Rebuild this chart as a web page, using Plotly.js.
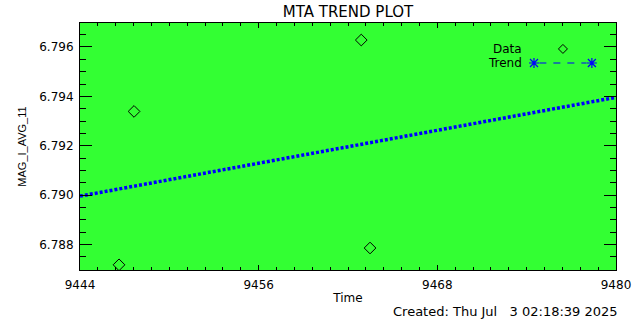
<!DOCTYPE html>
<html>
<head>
<meta charset="utf-8">
<script src="https://cdn.plot.ly/plotly-3.0.1.min.js"></script>
<style>html,body{margin:0;padding:0;background:#fff;}#chart{width:640px;height:320px;}</style>
</head>
<body>
<div id="chart"></div>
<script>
// Data
var dataTime = [9446.62, 9447.63, 9462.89, 9463.48];
var dataValue = [6.78718, 6.79339, 6.79628, 6.78786];
var trendTime = [9444, 9480];
var trendValue = [6.78996, 6.79396];
var xTickVals = [9444, 9456, 9468, 9480];
var yTickVals = [6.788, 6.790, 6.792, 6.794, 6.796];

var font = 'DejaVu Sans, Verdana, sans-serif';
var narrow = 'Liberation Sans, Arial, sans-serif';

var traces = [
  {
    x: trendTime, y: trendValue, type: 'scatter', mode: 'lines',
    line: {color: '#0000ff', width: 3.5, dash: '3px,2px'},
    showlegend: false, hoverinfo: 'skip'
  },
  {
    x: dataTime, y: dataValue, type: 'scatter', mode: 'markers',
    marker: {symbol: 'diamond-open', size: 9, color: '#000000', line: {width: 1, color: '#000000'}},
    showlegend: false
  }
];

// custom legend decorations (paper coords, pixel-sized)
function asterisk(xp, yp) {
  return {
    type: 'path', xref: 'paper', yref: 'paper', xsizemode: 'pixel', ysizemode: 'pixel',
    xanchor: xp, yanchor: yp,
    path: 'M-5,0L5,0M0,-5L0,5M-4,-4L4,4M-4,4L4,-4',
    line: {color: '#0000ff', width: 1.2}
  };
}
var shapes = [
  {
    type: 'path', xref: 'paper', yref: 'paper', xsizemode: 'pixel', ysizemode: 'pixel',
    xanchor: 0.901, yanchor: 0.895,
    path: 'M-4.5,0L0,4.5L4.5,0L0,-4.5Z',
    line: {color: '#000000', width: 1}
  },
  asterisk(0.847, 0.838),
  asterisk(0.955, 0.838),
  {
    type: 'line', xref: 'paper', yref: 'paper', x0: 0.857, x1: 0.945, y0: 0.838, y1: 0.838,
    line: {color: '#0000ff', width: 1.2, dash: '7px,7px'}
  }
];

var layout = {
  width: 640, height: 320,
  margin: {l: 80, r: 24, t: 23, b: 50},
  paper_bgcolor: '#ffffff',
  plot_bgcolor: '#33ff33',
  font: {family: font, size: 12, color: '#000000'},
  title: {text: 'MTA TREND PLOT', x: 0.5, xref: 'paper', xanchor: 'center', y: 0.962, yanchor: 'middle',
          font: {family: font, size: 15, color: '#000000'}},
  xaxis: {
    range: [9444, 9480], tickvals: xTickVals, ticktext: xTickVals.map(String),
    ticks: 'inside', ticklen: 5, tickwidth: 1, tickcolor: '#000',
    minor: {dtick: 1.2, tick0: 9444, ticks: 'inside', ticklen: 3, tickcolor: '#000', tickwidth: 1},
    showline: true, linecolor: '#000', linewidth: 1, mirror: 'ticks',
    showgrid: false, zeroline: false,
    tickfont: {family: font, size: 12}, ticklabelstandoff: 4,
    title: {text: 'Time', font: {family: font, size: 12}, standoff: 2}
  },
  yaxis: {
    range: [6.78697, 6.79697], tickvals: yTickVals, ticktext: yTickVals.map(function(v){return v.toFixed(3);}),
    ticks: 'inside', ticklen: 12, tickwidth: 1, tickcolor: '#000',
    minor: {dtick: 0.0005, tick0: 6.788, ticks: 'inside', ticklen: 6, tickcolor: '#000', tickwidth: 1},
    showline: true, linecolor: '#000', linewidth: 1, mirror: 'ticks',
    showgrid: false, zeroline: false,
    tickfont: {family: font, size: 12}, ticklabelstandoff: 3,
    title: {text: 'MAG_I_AVG_11', font: {family: narrow, size: 11}, standoff: 10}
  },
  shapes: shapes,
  annotations: [
    {text: 'Data', xref: 'paper', yref: 'paper', x: 0.828, y: 0.895, xanchor: 'right', yanchor: 'middle',
     showarrow: false, font: {family: font, size: 12}},
    {text: 'Trend', xref: 'paper', yref: 'paper', x: 0.828, y: 0.838, xanchor: 'right', yanchor: 'middle',
     showarrow: false, font: {family: font, size: 12}},
    {text: 'Created: Thu Jul\u00a0\u00a0\u00a03 02:18:39 2025', xref: 'paper', yref: 'paper', x: 1.0075, y: -0.17,
     xanchor: 'right', yanchor: 'middle', showarrow: false, font: {family: font, size: 13}}
  ]
};

Plotly.newPlot('chart', traces, layout, {staticPlot: true, displayModeBar: false});
</script>
</body>
</html>
